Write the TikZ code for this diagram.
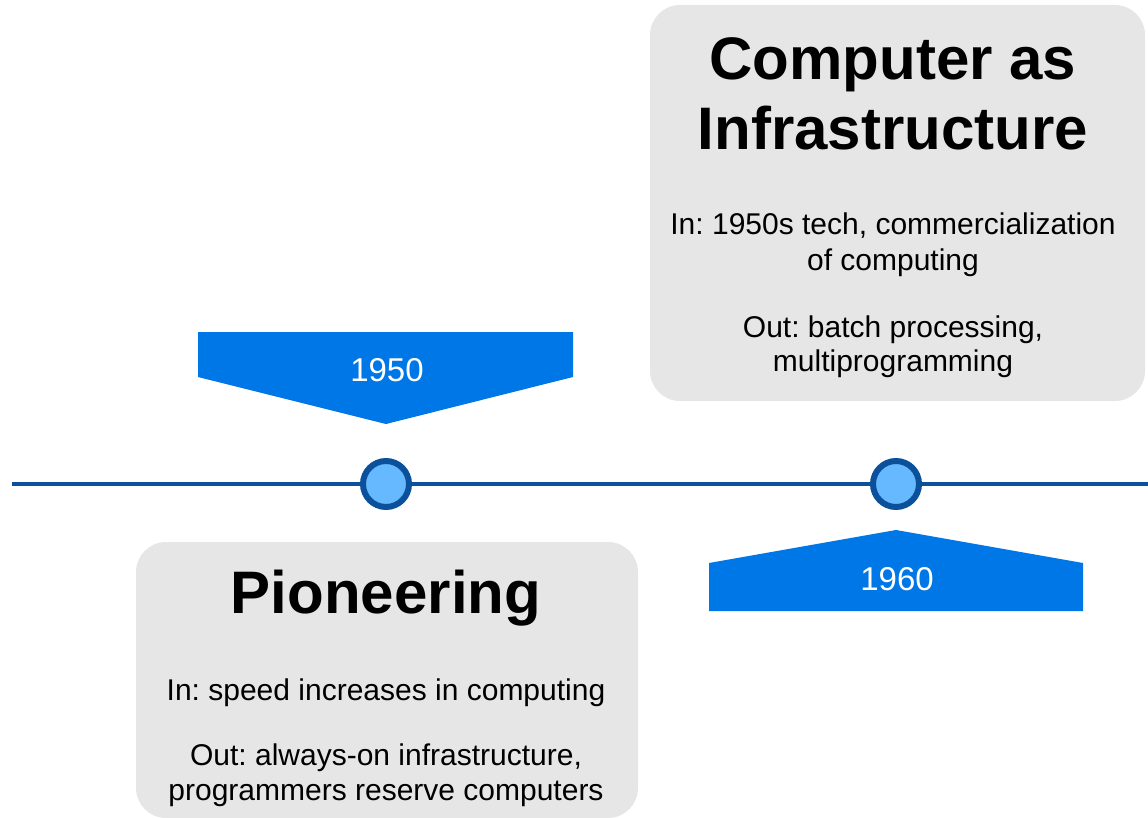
\documentclass[tikz,border=0pt]{standalone}
\usepackage{fontspec}
\setmainfont{Liberation Sans}
\frenchspacing

\definecolor{bannerblue}{RGB}{0,119,230}
\definecolor{lineblue}{RGB}{11,80,155}
\definecolor{dotblue}{RGB}{102,184,255}
\definecolor{boxgray}{RGB}{230,230,230}

\tikzstyle{era} = [rectangle, rounded corners=30pt, fill=boxgray, inner sep=0pt]
\tikzstyle{milestone} = [circle, draw=lineblue, line width=6pt, fill=dotblue, minimum size=46pt, inner sep=0pt]
\tikzstyle{banner} = [fill=bannerblue]
\tikzstyle{eratitle} = [anchor=base, font=\fontsize{60}{70}\selectfont\bfseries]
\tikzstyle{eratext} = [anchor=base, font=\fontsize{30}{36}\selectfont]
\tikzstyle{year} = [anchor=base, text=white, font=\fontsize{33}{40}\selectfont]

\begin{document}
\begin{tikzpicture}[x=1pt, y=-1pt]
  \useasboundingbox (0, 0) rectangle (1148, 818);
  % era boxes
  \node[era, minimum width=502pt, minimum height=276pt] (pioneer) at (387, 680) {};
  \node[era, minimum width=495pt, minimum height=396pt] (infra) at (897.5, 203) {};
  % timeline
  \coordinate (tl-start) at (12, 484);
  \coordinate (tl-end) at (1148, 484);
  \draw[lineblue, line width=4pt] (tl-start) -- (tl-end);
  \node[milestone] (m1950) at (386, 484) {};
  \node[milestone] (m1960) at (896, 484) {};
  % year banners
  \fill[banner] (198, 332) -- (573, 332) -- (573, 377) -- (386, 424) -- (198, 377) -- cycle;
  \fill[banner] (709, 611) -- (1083, 611) -- (1083, 563) -- (896, 530) -- (709, 563) -- cycle;
  \node[year] (y1950) at (387, 381) {1950};
  \node[year] (y1960) at (897, 590) {1960};
  % texts
  \node[eratitle] (pioneer-title) at (386, 613) {Pioneering};
  \foreach \y/\t [count=\k] in {700/{In: speed increases in computing},
      765/{Out: always-on infrastructure,}, 800/{programmers reserve computers}} {
    \node[eratext] (pioneer-\k) at (386, \y) {\t};
  }
  \node[eratitle] (infra-title1) at (893, 80) {Computer as};
  \node[eratitle] (infra-title2) at (893, 150) {Infrastructure};
  \foreach \y/\t [count=\k] in {235/{In: 1950s tech, commercialization}, 271/{of computing},
      337/{Out: batch processing,}, 371/{multiprogramming}} {
    \node[eratext] (infra-\k) at (893, \y) {\t};
  }
\end{tikzpicture}
\end{document}
